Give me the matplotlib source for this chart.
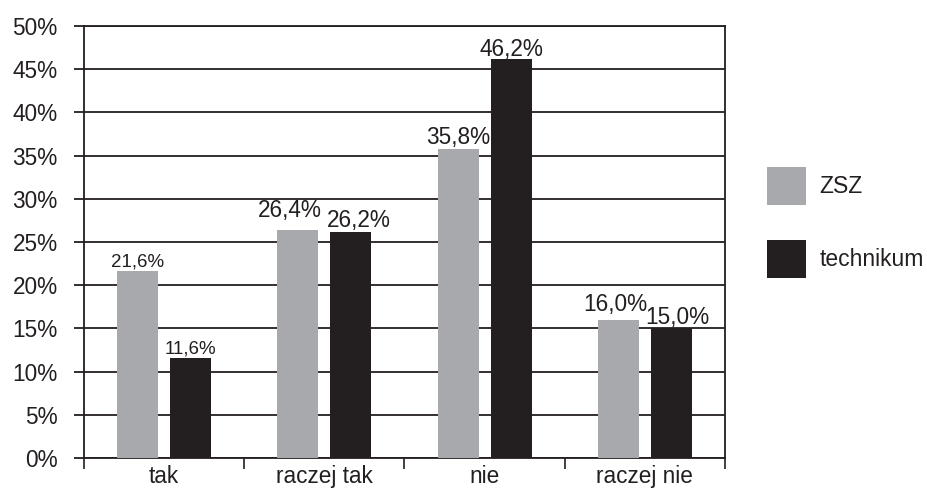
import numpy as np
import matplotlib
matplotlib.use('Agg')
from matplotlib import pyplot as plt

plt.rcParams['font.family'] = ['Liberation Sans', 'DejaVu Sans']

categories = ['tak', 'raczej tak', 'nie', 'raczej nie']
zsz = [21.6, 26.4, 35.8, 16.0]
technikum = [11.6, 26.2, 46.2, 15.0]
zsz_labels = ['21,6%', '26,4%', '35,8%', '16,0%']
tech_labels = ['11,6%', '26,2%', '46,2%', '15,0%']
label_sizes = [13.5, 16.3, 16.3, 16.3]

# label nudges (points) so neighbouring labels don't collide
zsz_nudge = [(0, 3.6), (-6.1, 9.4), (0, 3.6), (-2.2, 6.5)]
tech_nudge = [(0, 3.4), (5.8, 3.6), (0, 2.2), (4.0, 2.9)]

grey = '#a7a9ac'
dark = '#231f20'

fig = plt.figure(figsize=(9.28, 4.93), dpi=100)
ax = fig.add_axes([84/928, 35/493, 641/928, 432/493])

x = np.arange(len(categories))
w = 0.256
off = 0.165
ax.bar(x - off, zsz, w, color=grey, label='ZSZ', zorder=3)
ax.bar(x + off, technikum, w, color=dark, label='technikum', zorder=3)

for i in range(len(categories)):
    ax.annotate(zsz_labels[i], (x[i] - off, zsz[i]), xytext=zsz_nudge[i],
                textcoords='offset points', ha='center', va='baseline',
                fontsize=label_sizes[i], color=dark, zorder=4)
    ax.annotate(tech_labels[i], (x[i] + off, technikum[i]), xytext=tech_nudge[i],
                textcoords='offset points', ha='center', va='baseline',
                fontsize=label_sizes[i], color=dark, zorder=4)

ax.set_xlim(-0.5, len(categories) - 0.5)
ax.set_ylim(0, 50)
ax.set_yticks(np.arange(0, 51, 5))
ax.set_yticklabels(['%d%%' % v for v in range(0, 51, 5)])
ax.yaxis.grid(True, color=dark, linewidth=1.3, zorder=1)

# category boundaries get the tick marks, names sit between them
ax.set_xticks(np.arange(-0.5, len(categories), 1.0))
ax.set_xticklabels([])
ax.set_xticks(x, minor=True)
ax.set_xticklabels(categories, minor=True)
ax.tick_params(axis='x', which='major', length=8, width=1.2, color=dark, direction='out')
ax.tick_params(axis='x', which='minor', length=0, pad=5, labelsize=16.3, labelcolor=dark)
ax.tick_params(axis='y', length=7, width=1.3, color=dark, labelsize=16.3, labelcolor=dark, pad=12)

for s in ax.spines.values():
    s.set_color(dark)
    s.set_linewidth(1.3)

ax.legend(loc='center left', bbox_to_anchor=(1.033, 0.545), frameon=False,
          fontsize=16.5, handlelength=1.7, handleheight=2.18, labelspacing=1.53,
          handletextpad=0.6, labelcolor=dark)

fig.savefig('out.png', dpi=100)
